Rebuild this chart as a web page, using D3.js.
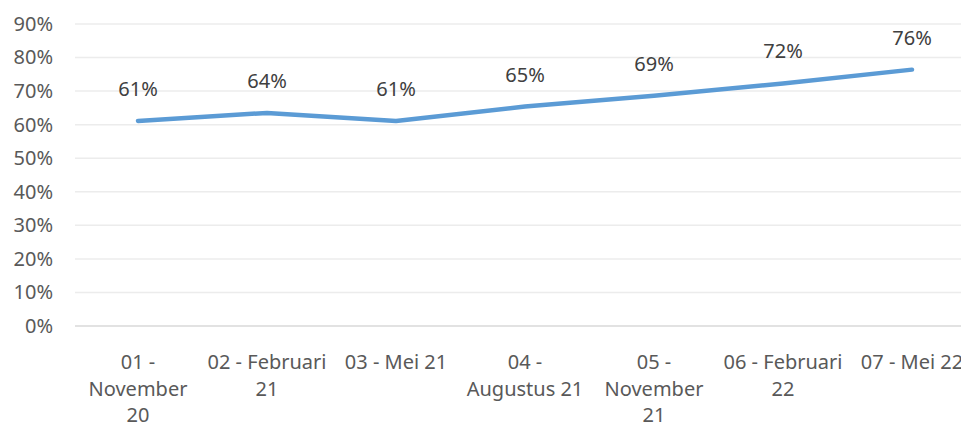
<!DOCTYPE html>
<html>
<head>
<meta charset="utf-8">
<script src="https://cdn.jsdelivr.net/npm/d3@7"></script>
<style>
  body { margin: 0; background: #fff; }
  svg { display: block; font-family: "Noto Sans", sans-serif; }
</style>
</head>
<body>
<svg id="chart" width="961" height="423"></svg>
<script>
// categories (tick labels, line breaks as in the picture)
var categories = [
    "01 -\nNovember\n20",
    "02 - Februari\n21",
    "03 - Mei 21",
    "04 -\nAugustus 21",
    "05 -\nNovember\n21",
    "06 - Februari\n22",
    "07 - Mei 22"
];
var values = [0.611, 0.635, 0.611, 0.654, 0.686, 0.723, 0.764];
var valueLabels = ["61%", "64%", "61%", "65%", "69%", "72%", "76%"];
var yTicks = [0, 0.1, 0.2, 0.3, 0.4, 0.5, 0.6, 0.7, 0.8, 0.9];

var svg = d3.select("#chart");

var x = d3.scaleBand()
    .domain(d3.range(categories.length))
    .range([73.5, 976.5]);

var y = d3.scaleLinear()
    .domain([0, 0.9])
    .range([326, 24]);

// gridlines
svg.append("g")
    .selectAll("line")
    .data(yTicks)
    .enter()
    .append("line")
    .attr("x1", 75)
    .attr("x2", 961)
    .attr("y1", function (d) { return y(d) })
    .attr("y2", function (d) { return y(d) })
    .attr("stroke", function (d) { return d === 0 ? "#d9d9d9" : "#ececec" })
    .attr("stroke-width", 1.5);

// y labels
var yAxis = d3.axisLeft(y)
    .tickValues(yTicks)
    .tickFormat(d3.format(".0%"))
    .tickSize(0)
    .tickPadding(0);
var gy = svg.append("g")
    .attr("transform", "translate(53,0)")
    .call(yAxis);
gy.select(".domain").remove();
gy.selectAll("text")
    .attr("fill", "#595959")
    .style("font-size", "20px")
    .style("font-family", "Noto Sans, sans-serif");

// x labels
svg.append("g")
    .selectAll("text")
    .data(categories)
    .enter()
    .append("text")
    .attr("text-anchor", "middle")
    .attr("fill", "#595959")
    .style("font-size", "20px")
    .attr("transform", function (d, i) {
        return "translate(" + (x(i) + x.bandwidth() / 2) + ",369)";
    })
    .each(function (d) {
        var t = d3.select(this);
        d.split("\n").forEach(function (line, k) {
            t.append("tspan")
                .attr("x", 0)
                .attr("y", k * 26.5)
                .text(line);
        });
    });

// line
var line = d3.line()
    .x(function (d, i) { return x(i) + x.bandwidth() / 2 })
    .y(function (d) { return y(d) });

svg.append("path")
    .datum(values)
    .attr("d", line)
    .attr("fill", "none")
    .attr("stroke", "#5b9bd5")
    .attr("stroke-width", 4.5)
    .attr("stroke-linecap", "round")
    .attr("stroke-linejoin", "round");

// data labels
svg.append("g")
    .selectAll("text")
    .data(values)
    .enter()
    .append("text")
    .attr("x", function (d, i) { return x(i) + x.bandwidth() / 2 })
    .attr("y", function (d) { return y(d) - 25 })
    .attr("text-anchor", "middle")
    .attr("fill", "#404040")
    .style("font-size", "20px")
    .text(function (d, i) { return valueLabels[i] });
</script>
</body>
</html>
